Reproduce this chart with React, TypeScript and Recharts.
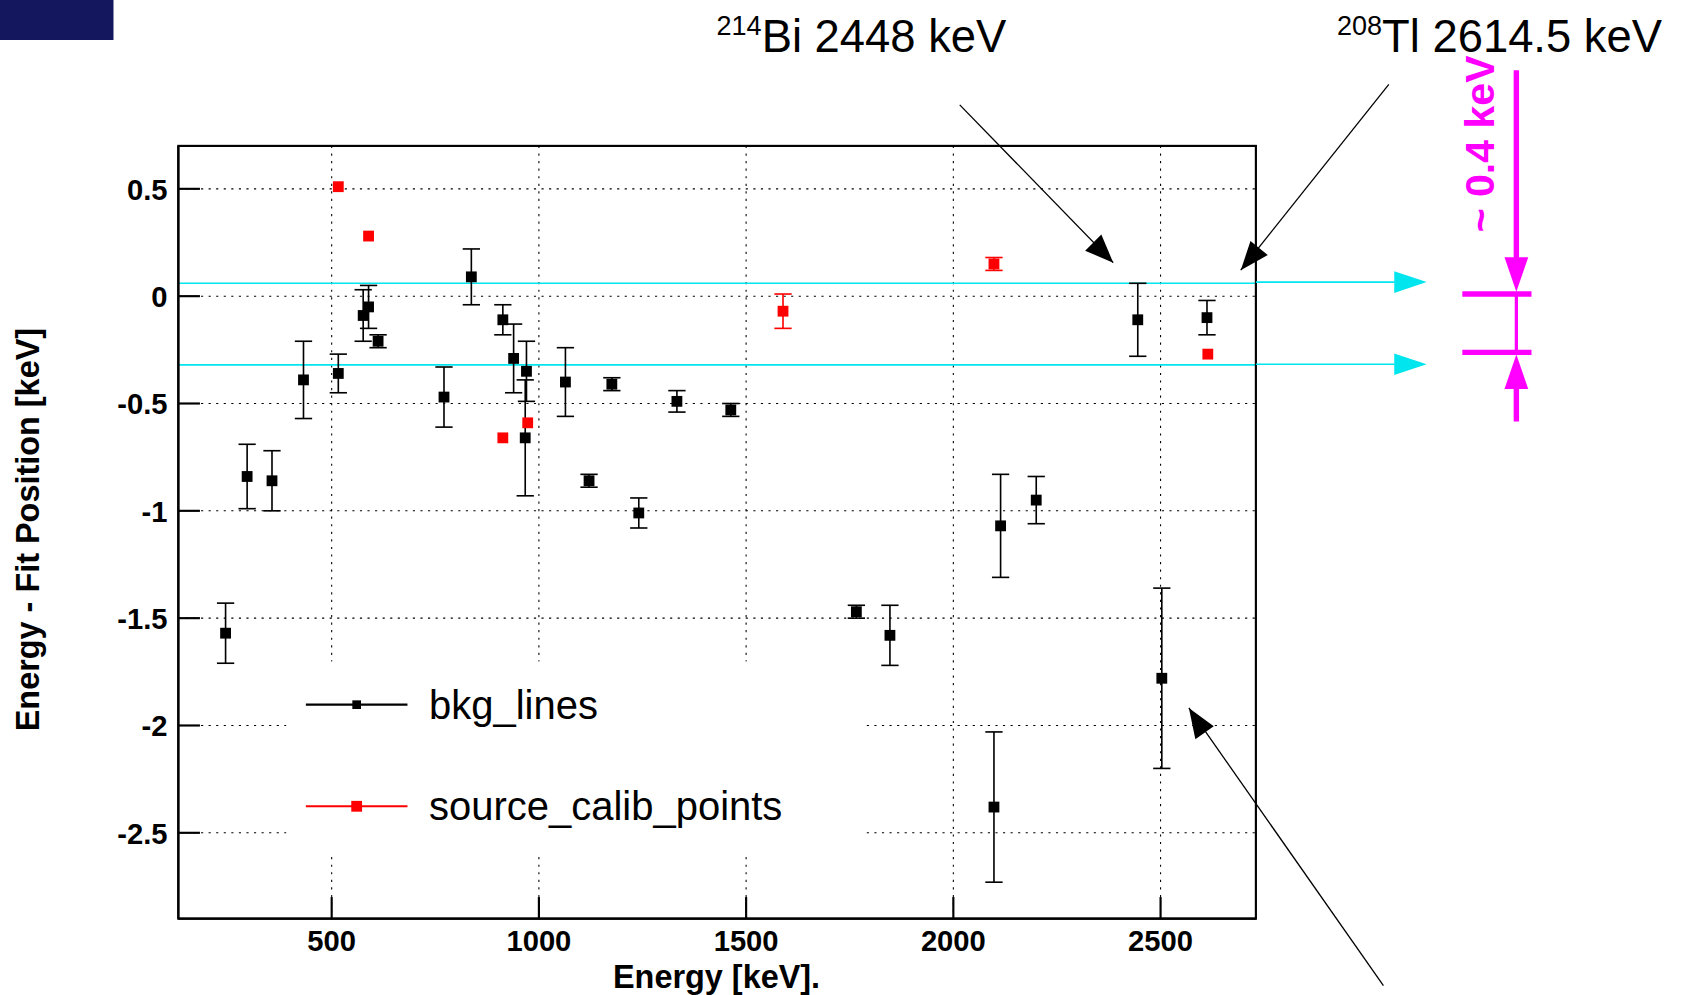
import { ComposedChart, Scatter, XAxis, YAxis, CartesianGrid, ErrorBar, ReferenceLine } from "recharts";

// background lines: energy [keV], residual [keV], error [keV]
const bkgEnergy = [244, 296, 356, 432, 516, 576, 589, 612, 771, 837, 913, 939, 970, 967, 1064, 1121, 1176, 1241, 1333, 1463, 1766, 1847, 2098, 2114, 2200, 2445, 2503, 2612];
const bkgResid = [-1.57, -0.84, -0.86, -0.39, -0.36, -0.09, -0.05, -0.21, -0.47, 0.09, -0.11, -0.29, -0.35, -0.66, -0.4, -0.86, -0.41, -1.01, -0.49, -0.53, -1.47, -1.58, -2.38, -1.07, -0.95, -0.11, -1.78, -0.1];
const bkgErr = [0.14, 0.15, 0.14, 0.18, 0.09, 0.12, 0.1, 0.03, 0.14, 0.13, 0.07, 0.16, 0.14, 0.27, 0.16, 0.03, 0.03, 0.07, 0.05, 0.03, 0.03, 0.14, 0.35, 0.24, 0.11, 0.17, 0.42, 0.08];

const srcEnergy = [516, 589, 913, 973, 1589, 2098, 2614];
const srcResid = [0.51, 0.28, -0.66, -0.59, -0.07, 0.15, -0.27];
const srcErr = [null, null, null, null, 0.08, 0.03, null];

const xTicks = [500, 1000, 1500, 2000, 2500];
const yTicks = [0.5, 0, -0.5, -1, -1.5, -2, -2.5];
const bandLevels = [0.06, -0.32];

const bkg = bkgEnergy.map((x, i) => ({ x, y: bkgResid[i], err: bkgErr[i] }));
const src = srcEnergy.map((x, i) => ({ x, y: srcResid[i], err: srcErr[i] }));

const font = "Liberation Sans, Arial, sans-serif";

const Square = (color: string) => (p: any) => (
  <rect x={p.cx - 5} y={p.cy - 5} width={10} height={10} fill={color} />
);

const XTick = (p: any) => (
  <g>
    <line x1={p.x} x2={p.x} y1={p.y} y2={p.y - 20} stroke="#000" strokeWidth={2} />
    <text x={p.x} y={p.y + 30} textAnchor="middle" fontFamily={font} fontWeight="bold" fontSize={27}>
      {p.payload.value}
    </text>
  </g>
);

const YTick = (p: any) => (
  <g>
    <line x1={p.x} x2={p.x + 20} y1={p.y} y2={p.y} stroke="#000" strokeWidth={2} />
    <text x={p.x - 10} y={p.y + 10} textAnchor="end" fontFamily={font} fontWeight="bold" fontSize={27}>
      {p.payload.value}
    </text>
  </g>
);

export default function App() {
  return (
    <div style={{ position: "absolute", left: 0, top: 0, width: 1686, height: 995, background: "#fff", overflow: "hidden" }}>
      <div style={{ position: "absolute", left: 0, top: 0, width: 1560, height: 920, transform: "scale(1.0808)", transformOrigin: "0 0" }}>
        <ComposedChart width={1560} height={940} margin={{ left: 85, top: 135, right: 398, bottom: 40 }}>
          <CartesianGrid stroke="#000" strokeDasharray="2 5" horizontalValues={yTicks} verticalValues={xTicks} />
          <XAxis type="number" dataKey="x" domain={[130, 2730]} ticks={xTicks} height={50} tickSize={0} tickMargin={0} tick={<XTick />} stroke="#000" strokeWidth={2} />
          <YAxis type="number" dataKey="y" domain={[-2.9, 0.7]} ticks={yTicks} width={80} tickSize={0} tickMargin={0} tick={<YTick />} stroke="#000" strokeWidth={2} />
          {bandLevels.map((v) => (
            <ReferenceLine key={v} y={v} stroke="#00e5ee" strokeWidth={1.5} />
          ))}
          <Scatter data={bkg} dataKey="y" shape={Square("#000")} isAnimationActive={false}>
            <ErrorBar dataKey="err" direction="y" width={8} stroke="#000" strokeWidth={1.5} />
          </Scatter>
          <Scatter data={src} dataKey="y" shape={Square("#f00")} isAnimationActive={false}>
            <ErrorBar dataKey="err" direction="y" width={8} stroke="#f00" strokeWidth={1.5} />
          </Scatter>
        </ComposedChart>
        <svg width={1560} height={940} style={{ position: "absolute", left: 0, top: 0, pointerEvents: "none" }}>
          <rect x={0} y={0} width={105} height={37} fill="#14165e" />
          {/* frame */}
          <rect x={165} y={135} width={997} height={715} fill="none" stroke="#000" strokeWidth={2} />
          {/* cyan extension */}
          <line x1={1162} x2={1295} y1={261} y2={261} stroke="#00e5ee" strokeWidth={1.5} />
          <path d="M1320,261 l-30,-10 l0,20 z" fill="#00e5ee" />
          <line x1={1162} x2={1295} y1={337} y2={337} stroke="#00e5ee" strokeWidth={1.5} />
          <path d="M1320,337 l-30,-10 l0,20 z" fill="#00e5ee" />
          {/* black arrows */}
          <line x1={888} y1={97} x2={1030} y2={243} stroke="#000" strokeWidth={1.2} />
          <path d="M1030,243 l-26,-11 l15,-15 z" fill="#000" />
          <line x1={1285} y1={78} x2={1148} y2={250} stroke="#000" strokeWidth={1.2} />
          <path d="M1148,250 l9,-27 l16,13 z" fill="#000" />
          <line x1={1280} y1={912} x2={1100} y2={655} stroke="#000" strokeWidth={1.2} />
          <path d="M1100,655 l23,17 l-17,12 z" fill="#000" />
          {/* labels */}
          <text x={663} y={48} fontFamily={font} fontSize={42}>
            <tspan fontSize={25} dy={-16}>214</tspan><tspan dy={16}>Bi 2448 keV</tspan>
          </text>
          <text x={1237} y={48} fontFamily={font} fontSize={42}>
            <tspan fontSize={25} dy={-16}>208</tspan><tspan dy={16}>Tl 2614.5 keV</tspan>
          </text>
          {/* magenta 0.4 keV marker */}
          <text transform="translate(1382,215) rotate(-90)" fontFamily={font} fontWeight="bold" fontSize={38} fill="#ff00ff">~ 0.4 keV</text>
          <line x1={1403} y1={65} x2={1403} y2={245} stroke="#ff00ff" strokeWidth={5} />
          <path d="M1403,270 l-11,-32 l22,0 z" fill="#ff00ff" />
          <line x1={1353} y1={272} x2={1417} y2={272} stroke="#ff00ff" strokeWidth={5} />
          <line x1={1353} y1={326} x2={1417} y2={326} stroke="#ff00ff" strokeWidth={5} />
          <line x1={1403} y1={272} x2={1403} y2={326} stroke="#ff00ff" strokeWidth={3} />
          <line x1={1403} y1={390} x2={1403} y2={350} stroke="#ff00ff" strokeWidth={5} />
          <path d="M1403,328 l-11,32 l22,0 z" fill="#ff00ff" />
          {/* legend */}
          <rect x={265} y={612} width={535} height={180} fill="#fff" />
          <line x1={283} x2={377} y1={652} y2={652} stroke="#000" strokeWidth={2} />
          <rect x={326} y={648} width={8} height={8} fill="#000" />
          <text x={397} y={665} fontFamily={font} fontSize={37}>bkg_lines</text>
          <line x1={283} x2={377} y1={746} y2={746} stroke="#f00" strokeWidth={2} />
          <rect x={325} y={741} width={10} height={10} fill="#f00" />
          <text x={397} y={759} fontFamily={font} fontSize={37}>source_calib_points</text>
          {/* axis titles */}
          <text x={663} y={914} textAnchor="middle" fontFamily={font} fontWeight="bold" fontSize={30}>Energy [keV].</text>
          <text transform="translate(36,490) rotate(-90)" textAnchor="middle" fontFamily={font} fontWeight="bold" fontSize={30}>Energy - Fit Position [keV]</text>
        </svg>
      </div>
    </div>
  );
}
